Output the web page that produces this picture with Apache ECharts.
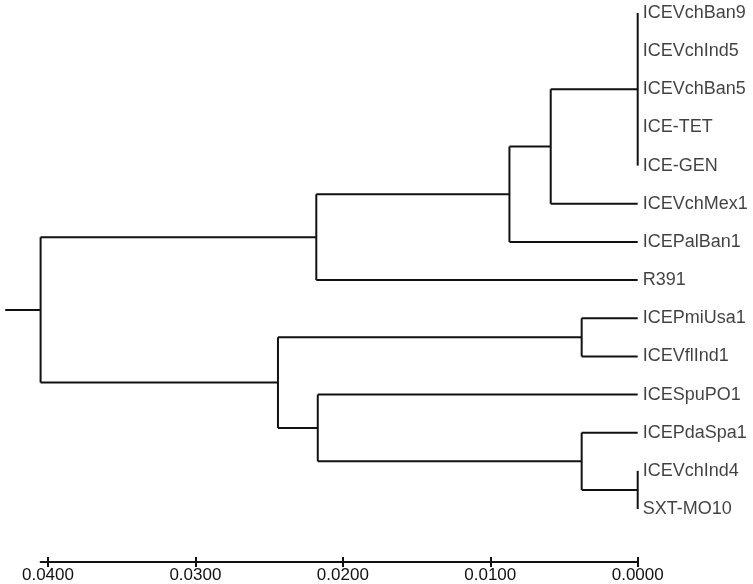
<!DOCTYPE html>
<html>
<head>
<meta charset="utf-8">
<title>dendrogram</title>
<script src="https://cdn.jsdelivr.net/npm/echarts@6/dist/echarts.min.js"></script>
<style>
  html, body { margin: 0; padding: 0; background: #fff; }
  #main { width: 753px; height: 584px; }
</style>
</head>
<body>
<div id="main"></div>
<script>
// leaves, top to bottom
const leafNames = ['ICEVchBan9', 'ICEVchInd5', 'ICEVchBan5', 'ICE-TET', 'ICE-GEN', 'ICEVchMex1', 'ICEPalBan1',
  'R391', 'ICEPmiUsa1', 'ICEVflInd1', 'ICESpuPO1', 'ICEPdaSpa1', 'ICEVchInd4', 'SXT-MO10'];
// clusters: members (Lk = leaf k, ck = cluster k) and the distance they join at
const clusterMembers = [
  ['L0', 'L1', 'L2', 'L3', 'L4'], // c0
  ['c0', 'L5'],                   // c1
  ['c1', 'L6'],                   // c2
  ['c2', 'L7'],                   // c3
  ['L8', 'L9'],                   // c4
  ['L12', 'L13'],                 // c5
  ['L11', 'c5'],                  // c6
  ['L10', 'c6'],                  // c7
  ['c4', 'c7'],                   // c8
  ['c3', 'c8']                    // c9 root
];
const clusterHeights = [0, 0.0059, 0.0087, 0.0218, 0.0038, 0, 0.0038, 0.0217, 0.0244, 0.0405];
const rootStub = 0.0024;
const tickValues = [0, 0.01, 0.02, 0.03, 0.04];

// node positions: h = distance, y = leaf slot
const nodes = {};
leafNames.forEach(function (n, i) { nodes['L' + i] = { h: 0, y: i }; });
const segments = [];
clusterMembers.forEach(function (members, k) {
  const h = clusterHeights[k];
  const kids = members.map(function (m) { return nodes[m]; });
  const y0 = kids[0].y, y1 = kids[kids.length - 1].y;
  segments.push([h, y0, h, y1]);
  kids.forEach(function (c) { segments.push([c.h, c.y, h, c.y]); });
  nodes['c' + k] = { h: h, y: (y0 + y1) / 2 };
});
const root = nodes['c' + (clusterMembers.length - 1)];
segments.push([root.h, root.y, root.h + rootStub, root.y]);

const leafPoints = leafNames.map(function (n, i) { return [0, i, n]; });

const lineColor = '#111';
const gridBox = { left: 40.6, right: 115.3, top: 13, bottom: 75 };
const xAxisBase = {
  type: 'value', inverse: true, min: 0, max: 0.0405, position: 'bottom', offset: 53,
  splitLine: { show: false }
};
const yAxisBase = { type: 'value', min: 0, max: leafNames.length - 1, inverse: true, show: false };

const chart = echarts.init(document.getElementById('main'));
chart.setOption({
  animation: false,
  backgroundColor: '#fff',
  // second grid only carries the upper half of the crossing ticks
  grid: [Object.assign({}, gridBox), Object.assign({}, gridBox)],
  xAxis: [
    Object.assign({}, xAxisBase, {
      gridIndex: 0,
      axisLine: { onZero: false, lineStyle: { color: lineColor, width: 2 } },
      axisTick: { customValues: tickValues, length: 5, lineStyle: { color: lineColor, width: 2 } },
      axisLabel: {
        customValues: tickValues, margin: 5, color: lineColor, fontSize: 17,
        fontFamily: '"Liberation Sans Narrow", "Liberation Sans", Arial, sans-serif',
        formatter: function (v) { return v.toFixed(4); }
      }
    }),
    Object.assign({}, xAxisBase, {
      gridIndex: 1,
      axisLine: { show: false, onZero: false },
      axisTick: { customValues: tickValues, inside: true, length: 5, lineStyle: { color: lineColor, width: 2 } },
      axisLabel: { show: false }
    })
  ],
  yAxis: [
    Object.assign({}, yAxisBase, { gridIndex: 0 }),
    Object.assign({}, yAxisBase, { gridIndex: 1 })
  ],
  series: [
    {
      type: 'custom',
      clip: false,
      data: segments,
      renderItem: function (params, api) {
        const p1 = api.coord([api.value(0), api.value(1)]);
        const p2 = api.coord([api.value(2), api.value(3)]);
        return {
          type: 'line',
          shape: { x1: p1[0], y1: p1[1], x2: p2[0], y2: p2[1] },
          style: { stroke: lineColor, lineWidth: 2 }
        };
      }
    },
    {
      type: 'scatter',
      data: leafPoints,
      symbolSize: 1,
      itemStyle: { color: 'rgba(0,0,0,0)' },
      label: {
        show: true, position: 'right', distance: 4.5,
        color: lineColor, fontSize: 18, fontFamily: '"Liberation Sans", Arial, sans-serif',
        formatter: function (p) { return p.data[2]; }
      }
    }
  ]
});
</script>
</body>
</html>
